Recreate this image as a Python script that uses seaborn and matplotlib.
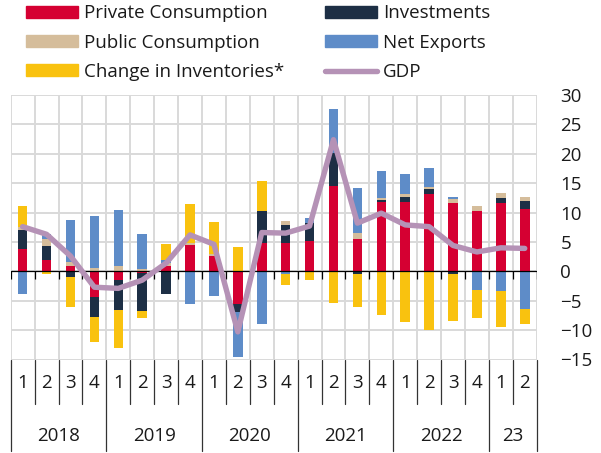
import numpy as np
import pandas as pd
import matplotlib
matplotlib.use("Agg")
import matplotlib.pyplot as plt
import seaborn as sns
from matplotlib.patches import Patch
from matplotlib.lines import Line2D

# ---------------- data ----------------
quarters = ["1", "2", "3", "4", "1", "2", "3", "4", "1", "2", "3", "4",
            "1", "2", "3", "4", "1", "2", "3", "4", "1", "2"]
years = ["2018", "2019", "2020", "2021", "2022", "23"]
year_sizes = [4, 4, 4, 4, 4, 2]

private = [3.85, 1.93, 0.85, -4.3, -1.5, -0.2, 0.9, 4.5, 2.65, -5.55, 4.9, 4.9,
           5.1, 14.6, 5.55, 11.85, 11.85, 13.1, 11.7, 10.2, 11.55, 10.65]
investments = [3.2, 2.44, -1.0, -3.5, -5.0, -6.5, -3.9, 0.0, 0.0, -1.4, 5.3, 3.0,
               3.2, 5.55, -0.45, 0.35, 0.75, 0.9, -0.45, 0.1, 0.9, 1.25]
public = [0.45, 1.08, 0.8, 0.6, 0.9, 0.35, 0.6, 0.3, 0.35, 0.0, 0.0, 0.7,
          0.0, 0.0, 1.0, 0.3, 0.55, 0.3, 0.6, 0.9, 0.8, 0.75]
net_exports = [-3.85, 0.9, 7.0, 8.8, 9.6, 5.95, 0.5, -5.55, -4.2, -7.65, -9.0, -0.45,
               0.75, 7.55, 7.55, 4.65, 3.4, 3.2, 0.3, -3.2, -3.35, -6.35]
inventories = [3.7, -0.45, -5.1, -4.25, -6.6, -1.3, 2.7, 6.7, 5.4, 4.2, 5.2, -1.8,
               -1.5, -5.45, -5.65, -7.4, -8.7, -10.0, -7.95, -4.8, -6.05, -2.6]
gdp = [7.6, 6.3, 2.6, -2.7, -2.9, -1.5, 1.4, 6.2, 4.6, -10.3, 6.6, 6.5,
       7.7, 22.4, 8.2, 9.9, 7.9, 7.6, 4.4, 3.3, 4.0, 3.9]

series_names = ["Private Consumption", "Investments", "Public Consumption",
                "Net Exports", "Change in Inventories*"]
series_vals = [private, investments, public, net_exports, inventories]
colors = {
    "Private Consumption": "#D50032",
    "Investments": "#1D2F45",
    "Public Consumption": "#D5BD9B",
    "Net Exports": "#5E8CC8",
    "Change in Inventories*": "#F9C20F",
}
gdp_color = "#B592B6"

# ---------------- style ----------------
sns.set_theme(style="white")
plt.rcParams["font.family"] = ["Open Sans", "DejaVu Sans"]
FS = 13.5
text_color = "#1a1a1a"

fig = plt.figure(figsize=(6.01, 4.53), dpi=100)
L, R, T, B = 10.7 / 601, 536.7 / 601, 95 / 453, 359.5 / 453
ax = fig.add_axes([L, 1 - B, R - L, B - T])

n = len(quarters)
idx = np.arange(n)

pos_bottom = np.zeros(n)
neg_bottom = np.zeros(n)
for name, vals in zip(series_names, series_vals):
    v = np.array(vals, dtype=float)
    bottom = np.where(v >= 0, pos_bottom, neg_bottom)
    sns.barplot(x=idx, y=v, bottom=bottom, color=colors[name], width=0.4,
                saturation=1, ax=ax, zorder=2, linewidth=0, edgecolor="none")
    pos_bottom = pos_bottom + np.where(v > 0, v, 0)
    neg_bottom = neg_bottom + np.where(v < 0, v, 0)

# zero line and its small ticks
ax.axhline(0, color="black", lw=0.9, zorder=3)
bounds = np.arange(-0.5, n, 1.0)
ax.vlines(bounds, -1.3, 0, color="black", lw=0.9, zorder=3)

sns.lineplot(x=idx, y=gdp, color=gdp_color, lw=3.9, ax=ax, zorder=4,
             solid_joinstyle="round", solid_capstyle="round")

ax.set_xlim(-0.5, n - 0.5)
ax.set_ylim(-15, 30)
ax.set_yticks(np.arange(-15, 31, 5))
ax.yaxis.tick_right()
ax.tick_params(axis="y", length=0, pad=17, labelsize=FS, labelcolor=text_color)
ax.set_xticks(bounds, minor=True)
ax.set_xticks([])
ax.tick_params(axis="x", which="both", length=0, labelbottom=False)
ax.grid(axis="y", which="major", color="#d9d9d9", lw=1.4, zorder=0)
ax.grid(axis="x", which="minor", color="#d9d9d9", lw=1.4, zorder=0)
ax.set_axisbelow(True)
for s in ax.spines.values():
    s.set_visible(False)
ax.set_xlabel("")
ax.set_ylabel("")

# category axis labels
trans = ax.get_xaxis_transform()
h = B - T  # axes height in figure fraction
px = lambda p: -(p - 359.5) / (h * 453)  # pixel y -> axes fraction
for i, q in enumerate(quarters):
    ax.text(i, px(383), q, transform=trans, ha="center", va="center",
            fontsize=FS, color=text_color, clip_on=False)
start = 0
for yr, sz in zip(years, year_sizes):
    center = start + (sz - 1) / 2
    ax.text(center, px(436), yr, transform=trans, ha="center", va="center",
            fontsize=FS, color=text_color, clip_on=False)
    start += sz
year_edges = np.cumsum([0] + year_sizes) - 0.5
for b in bounds:
    bottom_y = px(451) if np.any(np.isclose(year_edges, b)) else px(404)
    ax.plot([b, b], [0, bottom_y], transform=trans, color="#333333", lw=0.9,
            clip_on=False)

# legend
handles = [Patch(color=colors["Private Consumption"]),
           Patch(color=colors["Public Consumption"]),
           Patch(color=colors["Change in Inventories*"]),
           Patch(color=colors["Investments"]),
           Patch(color=colors["Net Exports"]),
           Line2D([0], [0], color=gdp_color, lw=3.9, solid_capstyle="round")]
labels = ["Private Consumption", "Public Consumption", "Change in Inventories*",
          "Investments", "Net Exports", "GDP"]
fig.legend(handles, labels, ncol=2, loc="upper left",
           bbox_to_anchor=(26 / 601, 1 - 4.5 / 453), frameon=False,
           fontsize=FS, handlelength=2.77, handleheight=0.62,
           handletextpad=0.32, columnspacing=2.2, labelspacing=0.6,
           borderpad=0, borderaxespad=0, labelcolor=text_color)

fig.savefig("out.png", dpi=100)
